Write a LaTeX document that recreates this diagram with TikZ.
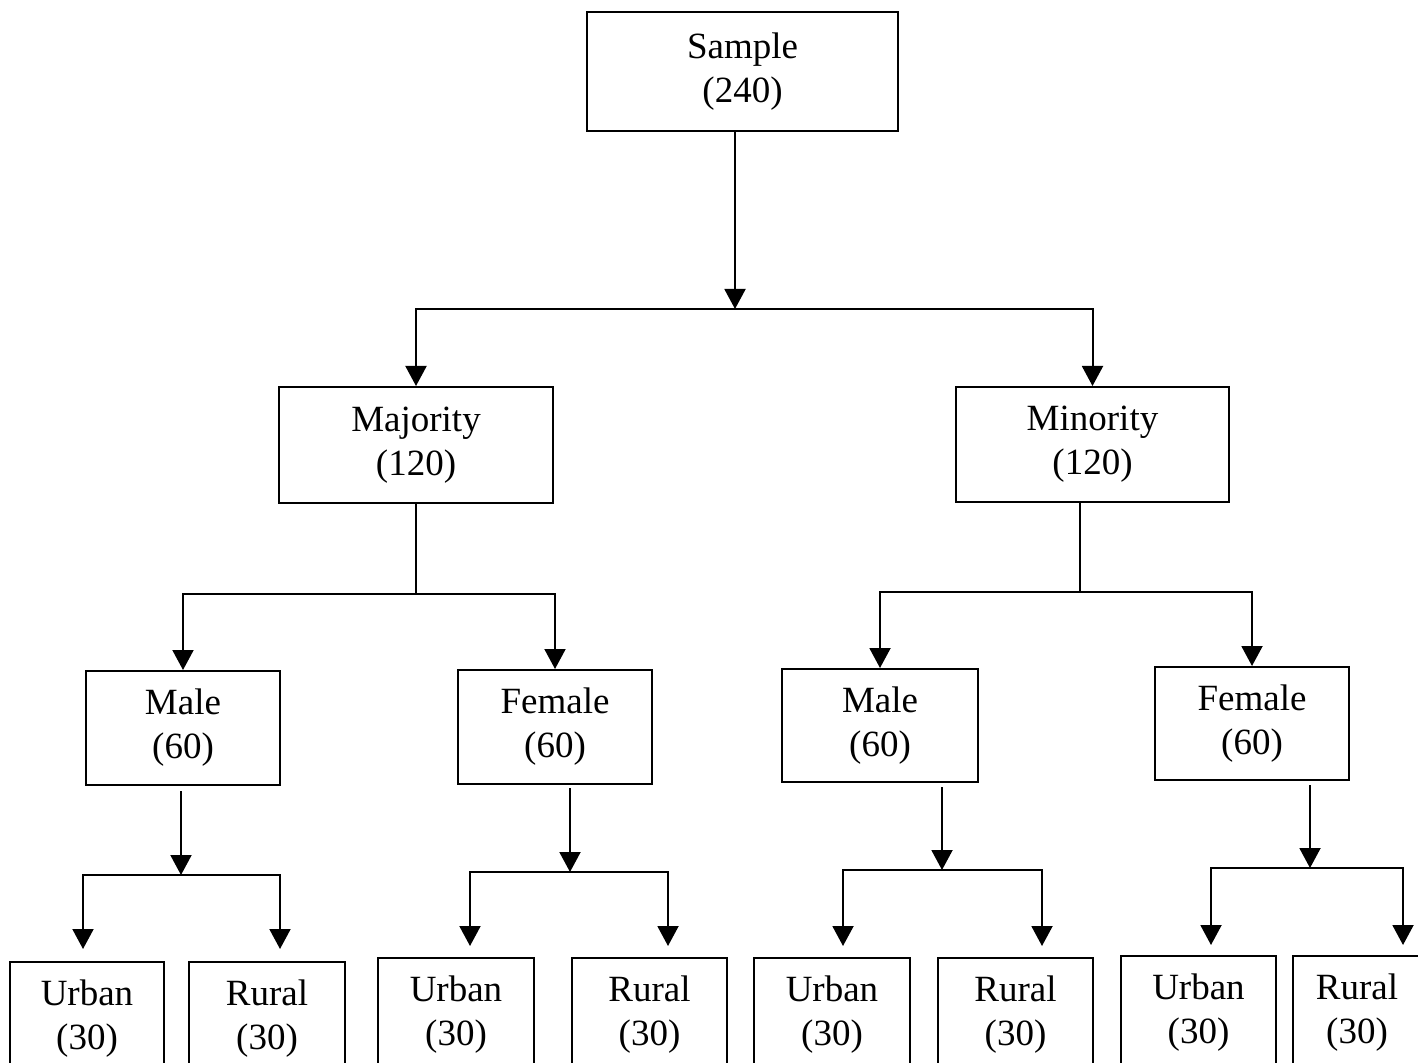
\documentclass[tikz,border=0pt]{standalone}
\usepackage{fontspec}
\setmainfont{Liberation Serif}
\usetikzlibrary{arrows.meta,calc}
\begin{document}
\begin{tikzpicture}[x=0.5pt,y=-0.5pt,
  box/.style={draw,line width=1pt,align=center,inner sep=0pt,
    font=\fontsize{18.5}{22}\selectfont},
  arr/.style={line width=1pt,-{Triangle[width=10.5pt,length=10pt]}},
  ln/.style={line width=1pt}]
\clip (0,0) rectangle (1418,1063);
\fill[white] (0,0) rectangle (1418,1063);
% level 0
\node[box,minimum width=311\pgflinewidth,text width=140pt] (s) at (742.5,71.5) [minimum width=155.5pt,minimum height=59.5pt] {Sample\\(240)};
% level 1
\node[box,minimum width=137pt,minimum height=58pt] (maj) at (416,445) {Majority\\(120)};
\node[box,minimum width=136.5pt,minimum height=57.5pt] (min) at (1092.5,444.5) {Minority\\(120)};
% level 2
\node[box,minimum width=97pt,minimum height=57pt] (m1) at (183,728) {Male\\(60)};
\node[box,minimum width=97pt,minimum height=57pt] (f1) at (555,727) {Female\\(60)};
\node[box,minimum width=98pt,minimum height=56.5pt] (m2) at (880,725.5) {Male\\(60)};
\node[box,minimum width=97pt,minimum height=56.5pt] (f2) at (1252,723.5) {Female\\(60)};
% level 3
\node[box,minimum width=77pt,minimum height=57pt] (u1) at (87,1019) {Urban\\(30)};
\node[box,minimum width=78pt,minimum height=57pt] (r1) at (267,1019) {Rural\\(30)};
\node[box,minimum width=78pt,minimum height=57pt] (u2) at (456,1015) {Urban\\(30)};
\node[box,minimum width=77.5pt,minimum height=57pt] (r2) at (649.5,1015) {Rural\\(30)};
\node[box,minimum width=78pt,minimum height=57pt] (u3) at (832,1015) {Urban\\(30)};
\node[box,minimum width=77.5pt,minimum height=57pt] (r3) at (1015.5,1015) {Rural\\(30)};
\node[box,minimum width=77.5pt,minimum height=57pt] (u4) at (1198.5,1013) {Urban\\(30)};
\node[box,minimum width=64pt,minimum height=57pt] (r4) at (1357,1013) {Rural\\(30)};
% junctions
\coordinate (j1) at (735,309);
\coordinate (j2) at (416,594);
\coordinate (j3) at (1080,592);
\coordinate (k1) at (181,875);
\coordinate (k2) at (570,872);
\coordinate (k3) at (942,870);
\coordinate (k4) at (1310,868);
% level 0 -> 1
\draw[arr] (j1 |- s.south) -- (j1);
\draw[arr] (j1) -| (maj.north);
\draw[arr] (j1) -| (min.north);
% level 1 -> 2
\draw[ln] (maj.south) -- (j2);
\draw[arr] (j2) -| (m1.north);
\draw[arr] (j2) -| (f1.north);
\draw[ln] (j3 |- min.south) -- (j3);
\draw[arr] (j3) -| (m2.north);
\draw[arr] (j3) -| (f2.north);
% level 2 -> 3
\draw[arr] ($(k1 |- m1.south)+(0,5)$) -- (k1);
\draw[arr] (k1) -| ($(u1.north)+(-4,-12)$);
\draw[arr] (k1) -| ($(r1.north)+(13,-12)$);
\draw[arr] ($(k2 |- f1.south)+(0,3)$) -- (k2);
\draw[arr] (k2) -| ($(u2.north)+(14,-11)$);
\draw[arr] (k2) -| ($(r2.north)+(18.5,-11)$);
\draw[arr] ($(k3 |- m2.south)+(0,4)$) -- (k3);
\draw[arr] (k3) -| ($(u3.north)+(11,-11)$);
\draw[arr] (k3) -| ($(r3.north)+(26.5,-11)$);
\draw[arr] ($(k4 |- f2.south)+(0,4)$) -- (k4);
\draw[arr] (k4) -| ($(u4.north)+(12.5,-10)$);
\draw[arr] (k4) -| ($(r4.north)+(46,-10)$);
\end{tikzpicture}
\end{document}
